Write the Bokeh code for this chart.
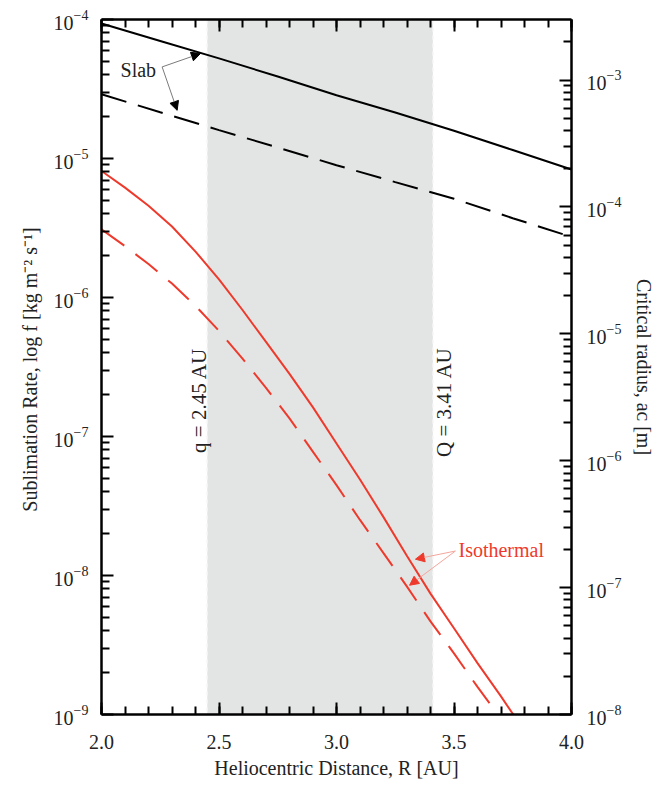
import numpy as np
from math import pi
from bokeh.plotting import figure
from bokeh.models import (Range1d, LogAxis, LinearAxis, FixedTicker, CustomJSTickFormatter,
                          BoxAnnotation, Span, Label, Arrow, NormalHead)
from bokeh.embed import file_html
from bokeh.resources import INLINE

# ---------------- data ----------------
R_SLAB = [2.0, 2.25, 2.5, 2.75, 3.0, 3.25, 3.5, 3.75, 4.0]
SLAB_SOLID = [9.35e-5, 7.0e-5, 5.25e-5, 3.89e-5, 2.85e-5, 2.14e-5, 1.585e-5, 1.15e-5, 8.34e-6]
SLAB_DASHED = [2.90e-5, 2.15e-5, 1.60e-5, 1.20e-5, 8.95e-6, 6.76e-6, 5.13e-6, 3.72e-6, 2.73e-6]

R_ISO_SOLID = [2.0, 2.1, 2.2, 2.3, 2.4, 2.5, 2.6, 2.7, 2.8, 2.9, 3.0, 3.1, 3.2, 3.3, 3.4,
               3.5, 3.6, 3.7, 3.76]
ISO_SOLID = [8.13e-6, 6.17e-6, 4.57e-6, 3.24e-6, 2.14e-6, 1.35e-6, 8.13e-7, 4.79e-7, 2.82e-7,
             1.62e-7, 8.91e-8, 4.90e-8, 2.63e-8, 1.38e-8, 7.41e-9, 4.17e-9, 2.34e-9, 1.35e-9,
             9.55e-10]
R_ISO_DASHED = [2.0, 2.1, 2.2, 2.3, 2.4, 2.5, 2.6, 2.7, 2.8, 2.9, 3.0, 3.1, 3.2, 3.3, 3.4,
                3.5, 3.6, 3.7]
ISO_DASHED = [3.09e-6, 2.34e-6, 1.74e-6, 1.26e-6, 8.71e-7, 5.75e-7, 3.63e-7, 2.24e-7, 1.35e-7,
              7.76e-8, 4.47e-8, 2.51e-8, 1.45e-8, 8.32e-9, 4.68e-9, 2.75e-9, 1.58e-9, 9.33e-10]

PERIHELION = 2.45
APHELION = 3.41

X_TICKS = [2.0, 2.5, 3.0, 3.5, 4.0]
LEFT_TICKS = [1e-9, 1e-8, 1e-7, 1e-6, 1e-5, 1e-4]
RIGHT_TICKS = [1e-8, 1e-7, 1e-6, 1e-5, 1e-4, 1e-3]

X_LABEL = "Heliocentric Distance, R [AU]"
LEFT_LABEL = "Sublimation Rate, log f  [kg m\u207b\u00b2 s\u207b\u00b9]"
RIGHT_LABEL = "Critical radius, a\u1d04 [m]"

# ---------------- styling ----------------
FONT = "Liberation Serif"
RED = "#ee3a2c"
INK = "#222222"

p = figure(frame_width=470, frame_height=695,
           min_border_left=101, min_border_right=98, min_border_top=19, min_border_bottom=71,
           x_range=Range1d(2.0, 4.0), y_range=Range1d(1e-9, 1e-4), y_axis_type="log",
           output_backend="svg", toolbar_location=None)
p.extra_y_ranges = {"right": Range1d(1e-8, 10 ** -2.523)}
p.xgrid.visible = False
p.ygrid.visible = False
p.outline_line_color = None
p.background_fill_color = "white"
p.border_fill_color = "white"


def minor_log(ticks):
    out = []
    for t in ticks:
        for m in range(2, 10):
            out.append(t * m)
    return out


def style_axis(ax):
    ax.axis_line_width = 2.5
    ax.axis_line_color = "black"
    ax.major_tick_line_width = 2
    ax.minor_tick_line_width = 2
    ax.major_tick_line_color = "black"
    ax.minor_tick_line_color = "black"
    ax.major_tick_in = 12
    ax.major_tick_out = 0
    ax.minor_tick_in = 8
    ax.minor_tick_out = 0
    ax.major_label_text_font = FONT
    ax.major_label_text_font_size = "20px"
    ax.major_label_text_color = INK
    ax.axis_label_text_font = FONT
    ax.axis_label_text_font_size = "20px"
    ax.axis_label_text_font_style = "normal"
    ax.axis_label_text_color = INK


# bottom axis
xb = p.xaxis[0]
xb.ticker = FixedTicker(ticks=X_TICKS, minor_ticks=list(np.arange(20, 41) / 10.0))
xb.formatter = CustomJSTickFormatter(code="return tick.toFixed(1)")
style_axis(xb)
xb.major_label_standoff = 20
xb.axis_label = X_LABEL
xb.axis_label_standoff = 5

# top axis (no labels)
xt = LinearAxis(ticker=FixedTicker(ticks=X_TICKS, minor_ticks=list(np.arange(20, 41) / 10.0)),
                formatter=CustomJSTickFormatter(code="return ''"))
style_axis(xt)
xt.major_label_text_font_size = "0px"
xt.major_label_standoff = 0
p.add_layout(xt, "above")

# left axis
yl = p.yaxis[0]
yl.ticker = FixedTicker(ticks=LEFT_TICKS, minor_ticks=minor_log(LEFT_TICKS))
style_axis(yl)
yl.major_label_standoff = 13
yl.axis_label = LEFT_LABEL
yl.axis_label_standoff = 10

# right axis
yr = LogAxis(y_range_name="right",
             ticker=FixedTicker(ticks=RIGHT_TICKS, minor_ticks=minor_log(RIGHT_TICKS)))
style_axis(yr)
yr.major_label_standoff = 15
yr.axis_label = RIGHT_LABEL
yr.axis_label_standoff = 9
p.add_layout(yr, "right")

# shaded orbit band
p.add_layout(BoxAnnotation(left=PERIHELION, right=APHELION, fill_color="#e3e5e4",
                           fill_alpha=1.0, line_color=None, level="underlay"))
for loc in (PERIHELION, APHELION):
    p.add_layout(Span(location=loc, dimension="height", line_color="#f3f3f3",
                      line_width=1.5, line_dash="4 4", level="underlay"))

# curves
p.line(R_SLAB, SLAB_SOLID, line_color="black", line_width=2)
p.line(R_SLAB, SLAB_DASHED, line_color="black", line_width=2, line_dash="26 12")
p.line(R_ISO_SOLID, ISO_SOLID, line_color=RED, line_width=2)
p.line(R_ISO_DASHED, ISO_DASHED, line_color=RED, line_width=2, line_dash="28 14")

# annotations
p.add_layout(Label(x=2.081, y=4.3e-5, text="Slab", text_font=FONT, text_font_size="20px",
                   text_color=INK, text_align="left", text_baseline="middle"))
for xe, ye in ((2.421, 5.69e-5), (2.322, 2.22e-5)):
    p.add_layout(Arrow(end=NormalHead(size=9, fill_color="black", line_color="black",
                                      line_width=1),
                       x_start=2.258, y_start=4.56e-5, x_end=xe, y_end=ye,
                       line_color="#7a7a7a", line_width=1))

p.add_layout(Label(x=3.519, y=1.52e-8, text="Isothermal", text_font=FONT,
                   text_font_size="20px", text_color=RED, text_align="left",
                   text_baseline="middle"))
for xe, ye in ((3.336, 1.31e-8), (3.311, 8.51e-9)):
    p.add_layout(Arrow(end=NormalHead(size=9, fill_color=RED, line_color=RED, line_width=1),
                       x_start=3.506, y_start=1.50e-8, x_end=xe, y_end=ye,
                       line_color="#f4a59c", line_width=1))

p.add_layout(Label(x=2.417, y=1.82e-7, text="q = 2.45 AU", angle=pi / 2, text_font=FONT,
                   text_font_size="21px", text_color=INK, text_align="center",
                   text_baseline="middle"))
p.add_layout(Label(x=3.457, y=1.77e-7, text="Q = 3.41 AU", angle=pi / 2, text_font=FONT,
                   text_font_size="21px", text_color=INK, text_align="center",
                   text_baseline="middle"))

open("out.html", "w").write(file_html(p, INLINE))
